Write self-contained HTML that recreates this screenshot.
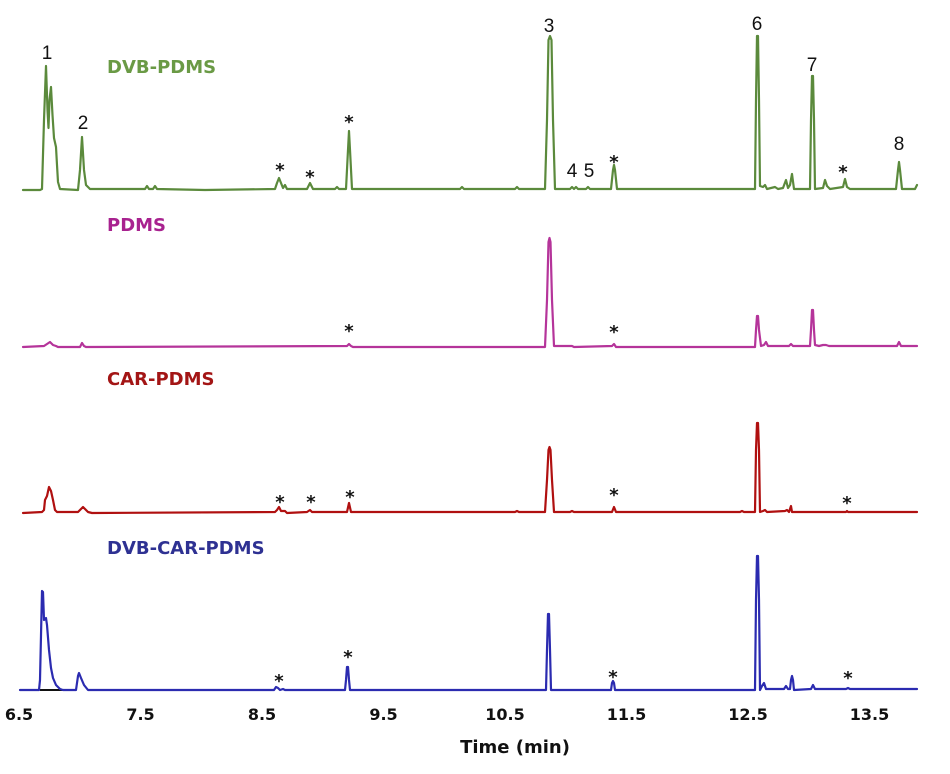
<!DOCTYPE html>
<html>
<head>
<meta charset="utf-8">
<style>
html,body{margin:0;padding:0;background:#fff;}
svg{display:block;}
.lab{font-family:"DejaVu Sans","Liberation Sans",sans-serif;font-weight:bold;font-size:18px;}
.num{font-family:"Liberation Sans",sans-serif;font-size:19px;fill:#111;text-anchor:middle;}
.st{font-family:"DejaVu Sans",sans-serif;font-weight:bold;font-size:18px;fill:#111;text-anchor:middle;}
.tk{font-family:"DejaVu Sans",sans-serif;font-weight:bold;font-size:16px;fill:#111;text-anchor:middle;}
.ax{font-family:"DejaVu Sans",sans-serif;font-weight:bold;font-size:18px;fill:#111;text-anchor:middle;}
polyline{fill:none;stroke-width:2.2;stroke-linejoin:round;stroke-linecap:round;}
</style>
</head>
<body>
<svg width="950" height="774" viewBox="0 0 950 774" xmlns="http://www.w3.org/2000/svg">
<rect width="950" height="774" fill="#fff"/>

<!-- DVB-PDMS green -->
<polyline stroke="#5b8a3c" points="23,190 40,190 42,189 44,120 46,66 47.5,110 48.5,128 49.5,100 51,87 52.5,115 54,138 56,147 57,165 58,182 60,189 78,190 80,170 82,137 84,170 86,185 90,189 145,189 147,186 149,189 153,189 155,186 157,189 205,190 275,189 277,183 279,178 281,183 283,188 285,185 287,189 307,189 310,183 313,189 335,189 337,187 339,189 346,189 348,150 349,131 350,150 352,189 460,189 462,187 464,189 515,189 517,187 519,189 545,189 547,120 548.5,40 550,36 551.5,40 553,120 555,189 570,189 572,187 574,189 576,187 578,189 586,189 588,187 590,189 611,189 613,170 614,165 615,170 617,189 700,189 755,189 756,100 757,36 758,36 759,100 760,186 763,187 765,185 767,189 775,187 778,189 783,188 786,180 788,188 790,185 792,174 794,189 810,189 811,120 812,76 813,76 814,120 815,189 823,188 825,180 827,186 830,189 843,187 845,179 847,187 850,189 896,189 898,170 899,162 900,170 902,189 915,189 917,185"/>

<!-- PDMS magenta -->
<polyline stroke="#b5349a" points="23,347 44,346 47,344 50,342 53,345 56,346 58,347 80,347 82,343 84,346 86,347 347,346 349,344 351,346 353,347 545,347 547,300 548.5,242 549.5,238 550.5,242 552,300 554,346 572,346 574,347 612,346 614,344 616,347 755,347 756,330 757,316 758,316 759,330 761,346 764,345 766,342 768,346 789,346 791,344 793,346 810,346 811,330 812,310 813,310 814,330 815,345 819,346 823,345 826,345 829,346 897,346 899,342 901,346 917,346"/>

<!-- CAR-PDMS red -->
<polyline stroke="#b01010" points="23,513 42,512 44,510 45,500 47,496 49,487 51,491 53,500 55,510 57,512 61,512 78,512 81,509 83,507 85,509 88,512 92,513 275,512 277,510 279,507 281,511 285,511 287,513 307,512 310,510 312,512 347,512 349,503 351,512 515,512 517,511 519,512 545,512 547,480 548.5,450 549.5,447 550.5,450 552,480 554,512 570,512 572,511 574,512 612,512 614,507 616,512 740,512 742,511 744,512 755,512 756,450 757,423 758,423 759,450 760,512 763,511 765,510 767,512 785,511 787,510 789,512 790,509 791,506 792,512 846,512 847,511 848,512 917,512"/>

<!-- DVB-CAR-PDMS blue -->
<line x1="40" y1="690" x2="63" y2="690" stroke="#111" stroke-width="2"/>
<polyline stroke="#2b2bb0" points="20,690 39,690 40,680 42,591 43,592 44,620 46,618 47,625 49,650 51,668 53,678 56,685 60,689 63,690 76,690 78,676 79,673 81,678 84,685 88,690 274,690 276,687 278,688 280,690 283,689 285,690 345,690 346,680 347,667 348,667 349,680 350,690 546,690 547,650 548,614 549,614 550,650 551,690 611,690 612,683 613,681 614,683 615,690 755,690 756,600 757,556 758,556 759,600 760,690 762,686 764,683 766,689 784,689 786,686 788,689 790,689 791,680 792,676 793,680 794,690 811,689 813,685 815,689 846,689 848,688 850,689 917,689"/>

<!-- series labels -->
<text class="lab" x="107" y="73" fill="#6a9a45">DVB-PDMS</text>
<text class="lab" x="107" y="231" fill="#a8228f">PDMS</text>
<text class="lab" x="107" y="385" fill="#a31515">CAR-PDMS</text>
<text class="lab" x="107" y="554" fill="#2e3192">DVB-CAR-PDMS</text>

<!-- peak numbers -->
<text class="num" x="47" y="59">1</text>
<text class="num" x="83" y="129">2</text>
<text class="num" x="549" y="32">3</text>
<text class="num" x="572" y="177">4</text>
<text class="num" x="589" y="177">5</text>
<text class="num" x="757" y="30">6</text>
<text class="num" x="812" y="71">7</text>
<text class="num" x="899" y="150">8</text>

<!-- asterisks -->
<text class="st" x="280" y="176">*</text>
<text class="st" x="310" y="183">*</text>
<text class="st" x="349" y="128">*</text>
<text class="st" x="614" y="168">*</text>
<text class="st" x="843" y="178">*</text>

<text class="st" x="349" y="337">*</text>
<text class="st" x="614" y="338">*</text>

<text class="st" x="280" y="508">*</text>
<text class="st" x="311" y="508">*</text>
<text class="st" x="350" y="503">*</text>
<text class="st" x="614" y="501">*</text>
<text class="st" x="847" y="509">*</text>

<text class="st" x="279" y="687">*</text>
<text class="st" x="348" y="663">*</text>
<text class="st" x="613" y="683">*</text>
<text class="st" x="848" y="684">*</text>

<!-- ticks -->
<text class="tk" x="19" y="720">6.5</text>
<text class="tk" x="140.5" y="720">7.5</text>
<text class="tk" x="262" y="720">8.5</text>
<text class="tk" x="383.5" y="720">9.5</text>
<text class="tk" x="505" y="720">10.5</text>
<text class="tk" x="626.5" y="720">11.5</text>
<text class="tk" x="748" y="720">12.5</text>
<text class="tk" x="869.5" y="720">13.5</text>

<text class="ax" x="515" y="753">Time (min)</text>
</svg>
</body>
</html>
